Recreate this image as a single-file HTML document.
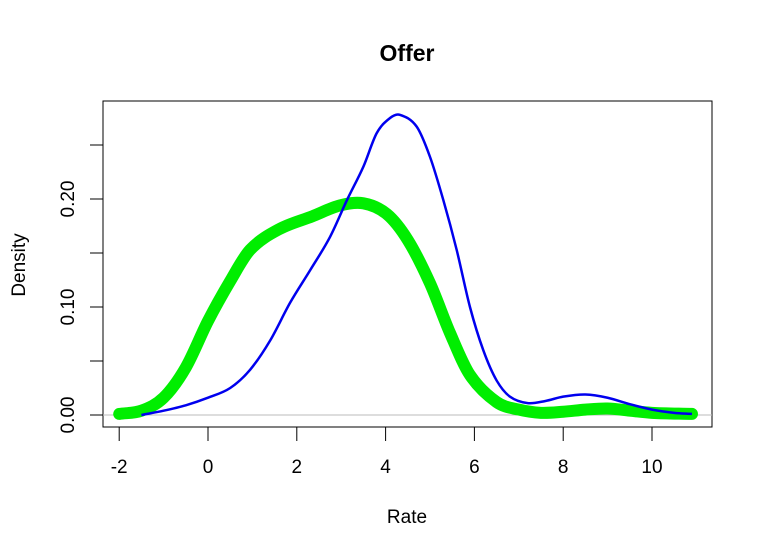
<!DOCTYPE html>
<html><head><meta charset="utf-8"><style>
body{margin:0;background:#fff}
svg{display:block;font-family:"Liberation Sans",Arial,sans-serif}
</style></head><body>
<svg id="chart" width="766" height="556">
<text x="407" y="61" text-anchor="middle" font-size="23" font-weight="bold">Offer</text>
<rect x="103" y="101" width="609" height="326" fill="none" stroke="#000"/>
<text x="407" y="523" text-anchor="middle" font-size="19">Rate</text>
<text transform="translate(25,265) rotate(-90)" text-anchor="middle" font-size="19">Density</text>
<g id="axes"></g>
<g id="marks"></g>
</svg>
<script>
const xTicks=[-2,0,2,4,6,8,10];
const yTicks=[0,0.05,0.1,0.15,0.2,0.25];
const yLabels=["0.00","","0.10","","0.20",""];
const blueX=[-1.5,-1,-0.5,0,0.5,0.95,1.4,1.85,2.3,2.75,3.13,3.5,3.8,4.1,4.32,4.7,5,5.3,5.6,5.9,6.2,6.5,6.8,7.2,7.6,8,8.5,9,9.5,10,10.5,10.9];
const blueY=[0,0.004,0.009,0.016,0.025,0.042,0.069,0.104,0.134,0.165,0.199,0.23,0.261,0.275,0.278,0.267,0.239,0.199,0.153,0.1,0.06,0.032,0.017,0.011,0.013,0.017,0.019,0.016,0.01,0.005,0.002,0.001];
const greenX=[-2,-1.5,-1,-0.5,0,0.5,0.95,1.6,2.35,2.97,3.5,4.03,4.5,5,5.45,5.9,6.5,7,7.5,8,8.5,9,9.5,10,10.9];
const greenY=[0.001,0.004,0.016,0.044,0.087,0.124,0.153,0.172,0.184,0.194,0.196,0.186,0.162,0.122,0.076,0.037,0.012,0.005,0.002,0.003,0.005,0.006,0.004,0.002,0.001];
const sx=v=>208+v*44.4, sy=v=>415-v*1080;
const NS='http://www.w3.org/2000/svg';
const axes=document.getElementById('axes'), marks=document.getElementById('marks');
function mk(tag,attrs,parent){const e=document.createElementNS(NS,tag);for(const k in attrs)e.setAttribute(k,attrs[k]);parent.appendChild(e);return e;}
xTicks.forEach(v=>{
 const t=mk('line',{x1:sx(v),x2:sx(v),y1:427,y2:441,stroke:'#000'},axes);
 
 
 const l=mk('text',{x:sx(v),y:473,'text-anchor':'middle','font-size':19},axes);
 l.textContent=v;
 
 
});
yTicks.forEach((v,i)=>{
 const t=mk('line',{x1:90,x2:103,y1:sy(v),y2:sy(v),stroke:'#000'},axes);
 
 
 if(yLabels[i]){
  const l=mk('text',{transform:`translate(74,${sy(v)}) rotate(-90)`,'text-anchor':'middle','font-size':19},axes);
  l.textContent=yLabels[i];
  
  
 }
});
const zl=mk('line',{x1:103,x2:712,y1:sy(0),y2:sy(0),stroke:'#bbb'},marks);


function smooth(xs,ys){
 const n=xs.length;
 const m=xs.map((x,i)=>{
  const a=Math.max(0,i-1), b=Math.min(n-1,i+1);
  return (ys[b]-ys[a])/(xs[b]-xs[a]);
 });
 let d=`M${sx(xs[0])},${sy(ys[0])}`;
 for(let i=0;i<n-1;i++){
  const h=xs[i+1]-xs[i];
  d+=` C${sx(xs[i]+h/3)},${sy(ys[i]+m[i]*h/3)} ${sx(xs[i+1]-h/3)},${sy(ys[i+1]-m[i+1]*h/3)} ${sx(xs[i+1])},${sy(ys[i+1])}`;
 }
 return d;
}
const g=mk('path',{d:smooth(greenX,greenY),fill:'none',stroke:'#00ee00','stroke-width':12,'stroke-linecap':'round','stroke-linejoin':'round'},marks);


const b=mk('path',{d:smooth(blueX,blueY),fill:'none',stroke:'#0000ee','stroke-width':2.5},marks);


</script>
</body></html>
